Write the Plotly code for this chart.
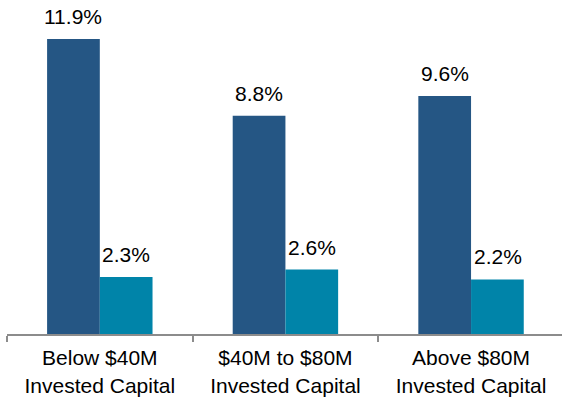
import plotly.graph_objects as go

categories = ["Below $40M<br>Invested Capital", "$40M to $80M<br>Invested Capital", "Above $80M<br>Invested Capital"]
series_a = [11.9, 8.8, 9.6]
series_b = [2.3, 2.6, 2.2]

FONT = "Liberation Sans, Arial, sans-serif"
BAR_HALF = 26.5  # horizontal offset of each bar from category centre, px

fig = go.Figure()
fig.add_trace(go.Bar(x=categories, y=series_a, marker_color="#255684", marker_line_width=0))
fig.add_trace(go.Bar(x=categories, y=series_b, marker_color="#0084A9", marker_line_width=0))

for cat, a, b in zip(categories, series_a, series_b):
    for val, xs in ((a, -BAR_HALF), (b, BAR_HALF)):
        fig.add_annotation(
            x=cat, y=val, xref="x", yref="y", text=f"{val:.1f}%",
            showarrow=False, xanchor="center", yanchor="bottom",
            xshift=xs, yshift=9,
            font=dict(size=21, color="#000000", family=FONT),
        )

fig.update_layout(
    width=562, height=398,
    margin=dict(l=7, r=0, t=0, b=64),
    paper_bgcolor="white", plot_bgcolor="white",
    barmode="group", bargap=0.432, bargroupgap=0,
    showlegend=False,
    font=dict(family=FONT, size=21, color="#000000"),
)
fig.update_xaxes(
    type="category", range=[-0.5, 2.49],
    showline=True, linecolor="#8c8c8c", linewidth=2,
    ticks="outside", tickson="boundaries", ticklen=6, tickcolor="#8c8c8c", tickwidth=2,
    ticklabelstandoff=4,
    showgrid=False, zeroline=False,
    tickfont=dict(size=21, family=FONT, color="#000000"),
)
fig.update_yaxes(
    range=[0, 13.47], visible=False, showgrid=False, zeroline=False,
)

fig.write_html("out.html")
